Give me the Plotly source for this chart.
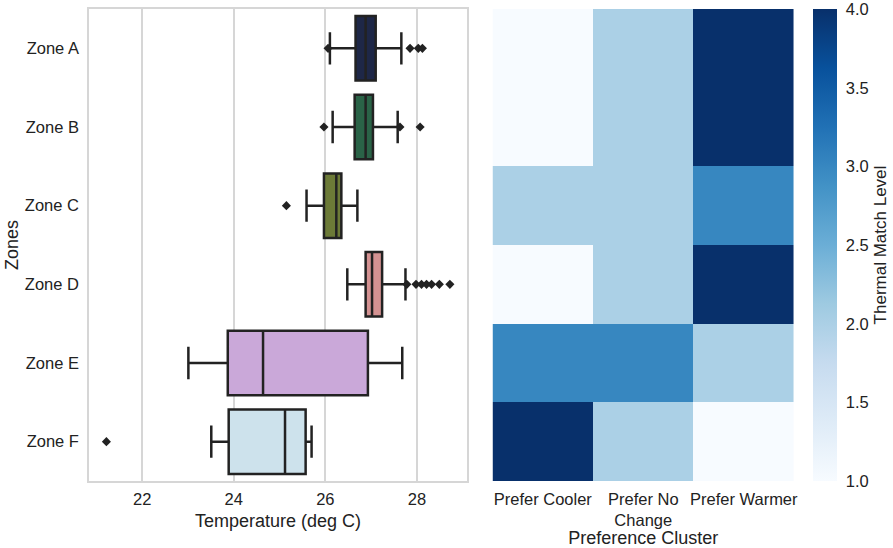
import plotly.graph_objects as go
import plotly.express as px

# box plot stats (deg C)
zones = ["Zone A", "Zone B", "Zone C", "Zone D", "Zone E", "Zone F"]
q1 = [26.66, 26.64, 25.97, 26.88, 23.87, 23.89]
median = [26.88, 26.88, 26.24, 27.02, 24.64, 25.12]
q3 = [27.10, 27.04, 26.35, 27.24, 26.93, 25.57]
low_whisker = [26.10, 26.16, 25.59, 26.48, 23.01, 23.51]
high_whisker = [27.66, 27.58, 26.70, 27.75, 27.68, 25.70]
outliers = {
    "Zone A": [26.06, 27.85, 28.03, 28.12],
    "Zone B": [25.97, 27.63, 28.07],
    "Zone C": [25.15],
    "Zone D": [27.78, 27.98, 28.10, 28.21, 28.32, 28.49, 28.72],
    "Zone E": [],
    "Zone F": [21.22],
}
box_colors = ["#1e2747", "#2a6347", "#6c7a37", "#d49292", "#caa8d9", "#cde2ec"]

# heatmap
clusters = ["Prefer Cooler", "Prefer No<br>Change", "Prefer Warmer"]
match_level = [
    [1, 2, 4],
    [1, 2, 4],
    [2, 2, 3],
    [1, 2, 4],
    [3, 3, 2],
    [4, 2, 1],
]

font = "Liberation Sans, Arial, sans-serif"
dark = "#222222"
grid = "#d6d6d6"

W, H = 893, 548

# plot area in pixels
left, right, top, bottom = 89, 794.3, 9, 481
area_w = right - left


def fx(px_):
    return (px_ - left) / area_w


fig = go.Figure()

for i, z in enumerate(zones):
    fig.add_trace(go.Box(
        y=[z], q1=[q1[i]], median=[median[i]], q3=[q3[i]],
        lowerfence=[low_whisker[i]], upperfence=[high_whisker[i]],
        orientation="h", boxpoints=False, width=0.82, whiskerwidth=0.5,
        fillcolor=box_colors[i], line=dict(color=dark, width=2.5),
        xaxis="x", yaxis="y", showlegend=False, hoverinfo="skip",
    ))
    if outliers[z]:
        fig.add_trace(go.Scatter(
            x=outliers[z], y=[z] * len(outliers[z]), mode="markers",
            marker=dict(symbol="diamond", size=7, color=dark),
            xaxis="x", yaxis="y", showlegend=False, hoverinfo="skip",
        ))

fig.add_trace(go.Heatmap(
    z=match_level, x=clusters, y=zones,
    colorscale=px.colors.sequential.Blues, zmin=1, zmax=4.002,
    xaxis="x2", yaxis="y2",
    colorbar=dict(
        x=fx(813), xanchor="left",
        y=0.5, yanchor="middle", len=1, lenmode="fraction", ypad=0, xpad=0,
        thickness=24, outlinewidth=0,
        tickvals=[1.0, 1.5, 2.0, 2.5, 3.0, 3.5, 4.0],
        ticktext=["1.0", "1.5", "2.0", "2.5", "3.0", "3.5", "4.0"],
        ticks="outside", ticklen=6, tickcolor="white",
        ticklabeloverflow="allow",
        tickfont=dict(size=16.5, color=dark, family=font),
        title=dict(text="Thermal Match Level", side="right",
                   font=dict(size=17, color=dark, family=font)),
    ),
    hoverinfo="skip",
))

fig.add_annotation(
    text="Zones", textangle=-90, xref="paper", yref="paper",
    x=(12 - left) / area_w, y=0.5, xanchor="center", yanchor="middle",
    showarrow=False, font=dict(size=18, color=dark, family=font),
)

fig.update_layout(
    width=W, height=H,
    margin=dict(l=left, r=W - right, t=top, b=H - bottom, autoexpand=False),
    paper_bgcolor="white", plot_bgcolor="white",
    font=dict(family=font, color=dark, size=16.5),
    xaxis=dict(
        domain=[0, fx(467)], range=[20.84, 29.09], automargin=False,
        tickvals=[22, 24, 26, 28], showgrid=True, gridcolor=grid, gridwidth=1.5,
        zeroline=False, showline=True, linecolor=grid, linewidth=1.5, mirror=True,
        ticks="", ticklabelstandoff=2, tickfont=dict(size=16.5),
        title=dict(text="Temperature (deg C)", font=dict(size=18), standoff=8),
    ),
    yaxis=dict(
        categoryorder="array", categoryarray=zones, automargin=False,
        range=[5.5, -0.5], showgrid=False, zeroline=False,
        showline=True, linecolor=grid, linewidth=1.5, mirror=True,
        ticks="", ticklabelstandoff=5, tickfont=dict(size=16.5),
    ),
    xaxis2=dict(
        domain=[fx(492.7), 1], anchor="y2", automargin=False,
        showgrid=False, zeroline=False, showline=False, ticks="",
        ticklabelstandoff=6, tickfont=dict(size=16.5),
        title=dict(text="Preference Cluster", font=dict(size=18), standoff=0),
    ),
    yaxis2=dict(
        anchor="x2", autorange="reversed", automargin=False,
        showticklabels=False, showgrid=False, zeroline=False, showline=False,
    ),
)

# drop the default page margin so the figure sits at the window corner
fig.write_html("out.html", config={"displayModeBar": False},
               post_script="document.body.style.margin='0';")
